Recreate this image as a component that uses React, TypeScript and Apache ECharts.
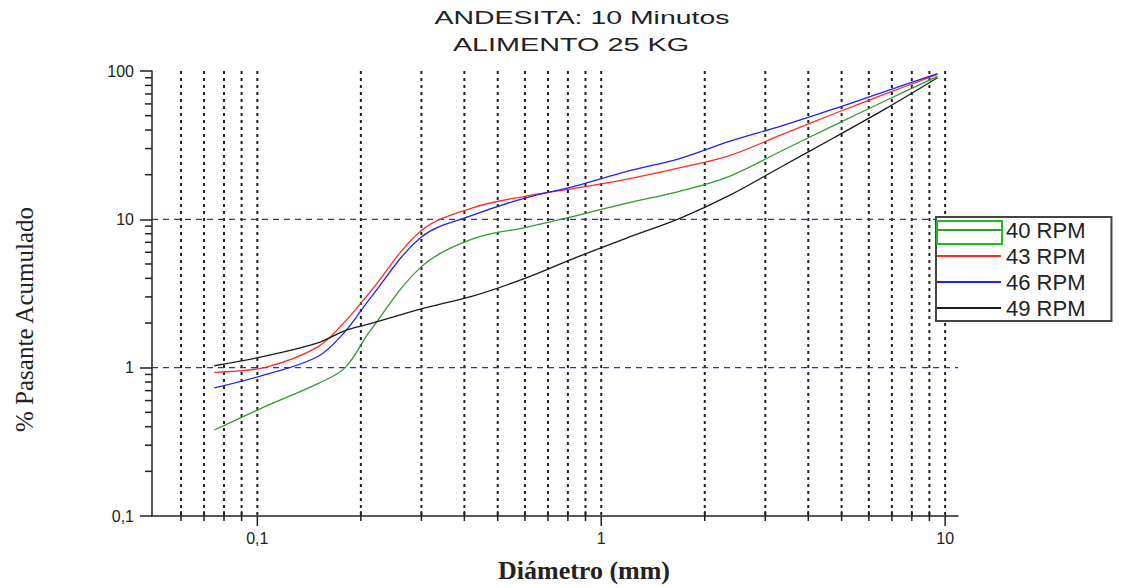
import React, { useEffect, useRef } from 'react';
import * as echarts from 'echarts';

// Sieve openings (mm)
const sizesMm = [0.075, 0.106, 0.15, 0.18, 0.212, 0.3, 0.425, 0.6, 0.85, 1.18, 1.7, 2.36, 3.35, 4.75, 6.7, 9.5];
// % passing accumulated per rotation speed
const rpm40 = [0.38, 0.55, 0.78, 1.0, 1.75, 4.8, 7.4, 8.8, 10.6, 12.8, 15.5, 19.5, 29, 43, 63, 92];
const rpm43 = [0.93, 1.01, 1.38, 2.05, 3.2, 8.4, 12.0, 14.3, 16.3, 18.6, 22.3, 26.9, 37.2, 51.5, 70, 95];
const rpm46 = [0.73, 0.9, 1.19, 1.75, 2.9, 7.6, 10.7, 13.9, 16.9, 21, 25.8, 33.5, 42.7, 55.5, 73, 96];
const rpm49 = [1.03, 1.2, 1.47, 1.78, 1.97, 2.49, 3.05, 4.0, 5.56, 7.45, 10.2, 14.5, 22.7, 35.5, 55.5, 90];

const seriesNames = ['40 RPM', '43 RPM', '46 RPM', '49 RPM'];
const seriesValues = [rpm40, rpm43, rpm46, rpm49];
const seriesColors = ['#2e9c2e', '#ff2a2a', '#2020ff', '#1a1a1a'];

// Vertical dotted grid lines / ticks on the x axis
const gridX = [0.06, 0.07, 0.08, 0.09, 0.1, 0.2, 0.3, 0.4, 0.5, 0.6, 0.7, 0.8, 0.9, 1, 2, 3, 4, 5, 6, 7, 8, 9, 10];
const majorX = [0.1, 1, 10];
// Minor ticks on the y axis
const minorY = [0.2, 0.3, 0.4, 0.5, 0.6, 0.7, 0.8, 0.9, 2, 3, 4, 5, 6, 7, 8, 9, 20, 30, 40, 50, 60, 70, 80, 90];
// Horizontal dashed reference lines
const refY = [1, 10];

const X_MIN = 0.0494;
const X_MAX = 10.9;
const Y_MIN = 0.1;
const Y_MAX = 100;

const titleLines = ['ANDESITA: 10 Minutos', 'ALIMENTO 25 KG'];

const fmt = (v: number) => {
  const isDecade = Math.abs(Math.log10(v) - Math.round(Math.log10(v))) < 1e-6;
  if (!isDecade) return '';
  return String(Number(v.toPrecision(6))).replace('.', ',');
};

export default function App() {
  const ref = useRef<HTMLDivElement>(null);
  useEffect(() => {
    if (!ref.current) return;
    const chart = echarts.init(ref.current, undefined, { renderer: 'svg' });
    const lineSeries = seriesNames.map((name, i) => ({
      name,
      type: 'line',
      data: sizesMm.map((d, k) => [d, seriesValues[i][k]]),
      smooth: 0.35,
      showSymbol: false,
      symbol: 'none',
      z: 5,
      lineStyle: { color: seriesColors[i], width: 1.3 },
      itemStyle: { color: seriesColors[i] },
    }));
    const option = {
      animation: false,
      backgroundColor: '#fff',
      grid: { left: 152, right: 164, top: 71, bottom: 69, containLabel: false },
      xAxis: {
        type: 'log',
        logBase: 10,
        min: X_MIN,
        max: X_MAX,
        name: 'Diámetro (mm)',
        nameLocation: 'middle',
        nameGap: 41,
        nameTextStyle: { fontFamily: '"Liberation Serif", serif', fontWeight: 'bold', fontSize: 26, color: '#222', padding: [0, 0, 0, 58] },
        axisLine: { show: true, lineStyle: { color: '#222', width: 1.5 } },
        axisTick: { show: false },
        splitLine: { show: false },
        minorTick: { show: false },
        axisLabel: {
          formatter: fmt,
          showMinLabel: false,
          showMaxLabel: false,
          margin: 14,
          fontFamily: '"Liberation Sans", Arial',
          fontSize: 16,
          color: '#222',
        },
      },
      yAxis: {
        type: 'log',
        logBase: 10,
        min: Y_MIN,
        max: Y_MAX,
        name: '% Pasante Acumulado',
        nameLocation: 'middle',
        nameGap: 115,
        nameTextStyle: { fontFamily: '"Liberation Serif", serif', fontSize: 25, color: '#222', padding: [0, 52, 0, 0] },
        axisLine: { show: true, lineStyle: { color: '#222', width: 1.5 } },
        axisTick: { show: true, length: 12, lineStyle: { color: '#222', width: 1.5 } },
        splitLine: { show: false },
        axisLabel: {
          formatter: fmt,
          margin: 18,
          fontFamily: '"Liberation Sans", Arial',
          fontSize: 16,
          color: '#222',
        },
      },
      legend: {
        data: seriesNames,
        orient: 'vertical',
        left: 936,
        top: 217,
        itemWidth: 64,
        itemHeight: 2,
        icon: 'rect',
        itemGap: 4,
        padding: [2, 26, 2, 1],
        borderColor: '#444',
        borderWidth: 2,
        backgroundColor: '#fff',
        textStyle: { fontFamily: '"Liberation Sans", Arial', fontSize: 22, color: '#222' },
      },
      graphic: [
        {
          type: 'text', x: 582, y: 18, scaleX: 1.58, z: 10,
          style: { text: titleLines[0], font: '18px "Liberation Sans", Arial', fill: '#222', align: 'center', verticalAlign: 'middle' },
        },
        {
          type: 'text', x: 571, y: 45, scaleX: 1.6, z: 10,
          style: { text: titleLines[1], font: '18px "Liberation Sans", Arial', fill: '#222', align: 'center', verticalAlign: 'middle' },
        },
        {
          type: 'rect', z: 100,
          shape: { x: 937, y: 221, width: 65, height: 23 },
          style: { fill: 'none', stroke: '#22bb22', lineWidth: 2 },
        },
      ],
      series: [
        {
          name: 'xgrid',
          type: 'custom',
          silent: true,
          clip: false,
          z: 1,
          data: gridX.map((v) => [v, 1]),
          encode: { x: 0, y: 1 },
          renderItem: (_params: any, api: any) => {
            const v = api.value(0);
            const top = api.coord([v, Y_MAX]);
            const bot = api.coord([v, Y_MIN]);
            const major = majorX.some((m) => Math.abs(m - v) < 1e-9);
            return {
              type: 'group',
              children: [
                { type: 'line', shape: { x1: top[0], y1: top[1], x2: bot[0], y2: bot[1] }, style: { stroke: '#222', lineWidth: 2, lineDash: [3, 4] } },
                { type: 'line', shape: { x1: bot[0], y1: major ? bot[1] : bot[1] - 5, x2: bot[0], y2: bot[1] + (major ? 10 : 5) }, style: { stroke: '#222', lineWidth: 1.5 } },
              ],
            };
          },
        },
        {
          name: 'yref',
          type: 'custom',
          silent: true,
          clip: false,
          z: 2,
          data: refY.map((v) => [X_MIN, v]),
          encode: { x: 0, y: 1 },
          renderItem: (_params: any, api: any) => {
            const a = api.coord([X_MIN, api.value(1)]);
            const b = api.coord([X_MAX, api.value(1)]);
            return { type: 'line', shape: { x1: a[0], y1: a[1], x2: b[0], y2: b[1] }, style: { stroke: '#3030b8', lineWidth: 1.4, lineDash: [6, 5] } };
          },
        },
        {
          name: 'yticks',
          type: 'custom',
          silent: true,
          clip: false,
          z: 1,
          data: minorY.map((v) => [X_MIN, v]),
          encode: { x: 0, y: 1 },
          renderItem: (_params: any, api: any) => {
            const p = api.coord([api.value(0), api.value(1)]);
            return { type: 'line', shape: { x1: p[0] - 7, y1: p[1], x2: p[0], y2: p[1] }, style: { stroke: '#222', lineWidth: 1.5 } };
          },
        },
        ...lineSeries,
      ],
    };
    chart.setOption(option as any);
    return () => chart.dispose();
  }, []);
  return <div ref={ref} style={{ position: 'absolute', left: 0, top: 0, width: 1122, height: 588 }} />;
}
